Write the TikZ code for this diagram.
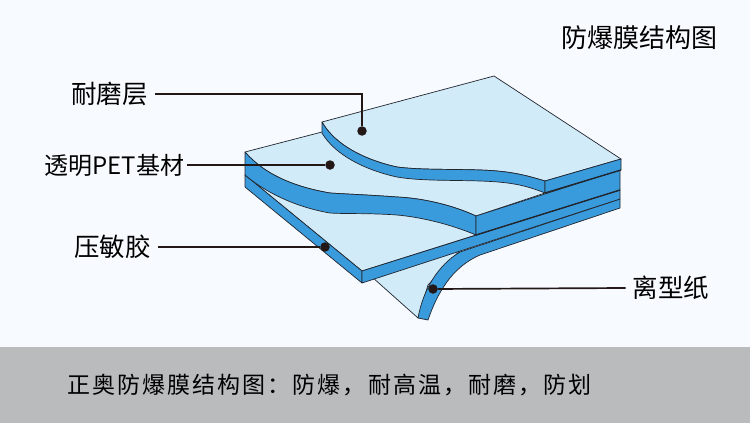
\documentclass[tikz,border=0pt]{standalone}
\usepackage{fontspec}
\newfontfamily\cjk{Noto Sans CJK SC}
\newfontfamily\cjkwide[LetterSpace=9]{Noto Sans CJK SC}
\definecolor{paleback}{HTML}{F7FBFF}
\definecolor{barback}{HTML}{B9BBBD}
\definecolor{filmface}{HTML}{D2EBF9}
\definecolor{filmedge}{HTML}{3A9BDC}
\definecolor{inkline}{HTML}{22262E}
\definecolor{pinblack}{HTML}{231815}
\tikzset{
	face/.style={fill=filmface,draw=inkline,line width=0.7pt,line join=round},
	edge/.style={fill=filmedge,draw=inkline,line width=0.7pt,line join=round},
	pin/.style={circle,fill=pinblack,inner sep=0pt,minimum size=9.5pt},
	lead/.style={draw=pinblack,line width=1.7pt},
	callout/.style={text=black,inner ysep=0pt,inner xsep=7pt,font=\cjk\fontsize{25.5}{25.5}\selectfont}
}
\begin{document}
\begin{tikzpicture}[x=1pt,y=-1pt]
	\fill[paleback] (0,0) rectangle (750,423);
	\fill[barback] (0,347) rectangle (750,423);
	\useasboundingbox (0,0) rectangle (750,423);
	% release paper
	\draw[face] (372,277) -- (418,318) -- (428,285) -- (465,245) -- cycle;
	\draw[edge] (620,199) -- (620,208) -- (480,255) .. controls (457,265) and (440,285) .. (428,320) -- (418,318) .. controls (423,290) and (438,265) .. (460,252) -- cycle;
	% adhesive layer
	\draw[face] (245,175) -- (362,271) -- (476,235) -- (476,216) -- (300,150) -- cycle;
	\draw[edge] (245,175) -- (362,271) -- (362,283) -- (245,187) -- cycle;
	\draw[edge] (362,271) -- (620,190) -- (620,199) -- (362,283) -- cycle;
	% PET layer
	\draw[face] (245,152) -- (322,132) -- (545,185) -- (545,193) -- (476,216) .. controls (450,204) and (420,198) .. (397,197) .. controls (370,195) and (345,194) .. (330,193) .. controls (295,187) and (265,175) .. cycle;
	\draw[edge] (245,152) .. controls (265,175) and (295,187) .. (330,193) .. controls (345,194) and (370,195) .. (397,197) .. controls (420,198) and (450,204) .. (476,216) -- (476,235) .. controls (450,224) and (420,217) .. (397,215) .. controls (370,213) and (345,214) .. (330,213) .. controls (295,207) and (265,192) .. (245,175) -- cycle;
	\draw[edge] (476,216) -- (620,170) -- (620,190) -- (476,235) -- cycle;
	\draw[inkline,line width=1.3pt] (476,235) -- (620,190);
	% wear layer
	\draw[face] (322,122) -- (494,76) -- (621,159) -- (545,181) .. controls (525,175) and (510,171) .. (480,170) .. controls (450,169) and (420,170) .. (397,167) .. controls (365,160) and (335,145) .. cycle;
	\draw[edge] (322,122) .. controls (335,145) and (365,160) .. (397,167) .. controls (420,170) and (450,169) .. (480,170) .. controls (510,171) and (525,175) .. (545,181) -- (545,193) .. controls (525,185) and (510,182) .. (480,181) .. controls (450,180) and (420,181) .. (397,177) .. controls (365,170) and (335,155) .. (322,133) -- cycle;
	\draw[edge] (545,181) -- (621,159) -- (621,170) -- (545,193) -- cycle;
	\draw[inkline,line width=1.3pt] (545,193) -- (621,170);
	% labels
	\node[callout] (wear) at (109.5,94) {耐磨层};
	\node[callout,inner xsep=2pt,font=\cjk\fontsize{24}{24}\selectfont] (pet) at (114.5,165) {透明PET基材};
	\node[callout] (adhesive) at (112.5,247) {压敏胶};
	\node[callout] (paper) at (671,288) {离型纸};
	\node[pin] (pinWear) at (362,131) {};
	\node[pin] (pinPet) at (330,165) {};
	\node[pin] (pinAdhesive) at (325,247) {};
	\node[pin] (pinPaper) at (433,289) {};
	\draw[lead] (wear.east) -| (pinWear);
	\draw[lead] (pet.east) -- (pinPet);
	\draw[lead] (adhesive.east) -- (pinAdhesive);
	\draw[lead] (paper.west) -- (pinPaper);
	% captions
	\node[font=\cjk\fontsize{26}{26}\selectfont] (title) at (639,38) {防爆膜结构图};
	\node[anchor=west,inner sep=0pt,font=\cjkwide\fontsize{23}{23}\selectfont] (caption) at (67,385) {正奥防爆膜结构图：防爆，耐高温，耐磨，防划};
\end{tikzpicture}
\end{document}
